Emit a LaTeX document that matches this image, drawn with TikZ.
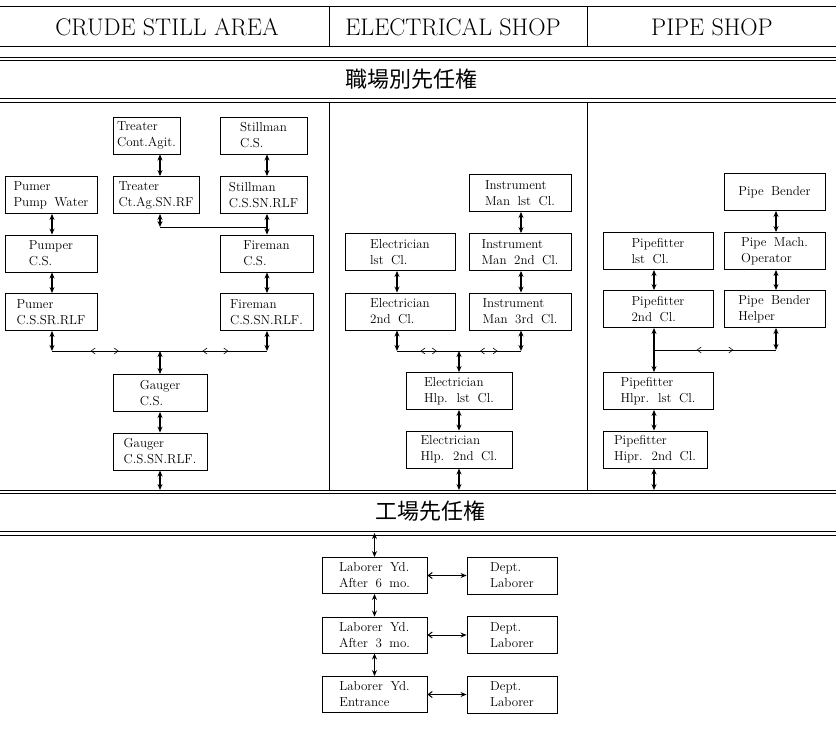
\documentclass[tikz,border=0pt]{standalone}
\usepackage{fontspec}
\newfontfamily\cjk{Noto Sans CJK JP}
\usetikzlibrary{arrows.meta,positioning,calc,decorations.markings}
\newcommand{\jobfont}{\fontsize{13}{16}\selectfont\spaceskip 7.5pt plus 2pt\relax}
\tikzset{
  job/.style={draw,line width=0.9pt,minimum height=37pt,inner sep=2pt,align=left,
    font={\jobfont}},
  dbl/.style={{Stealth[length=6pt,width=5pt]}-{Stealth[length=6pt,width=5pt]},line width=1.4pt},
  link/.style={line width=1pt},
  harr/.style={{Straight Barb[length=4pt,width=6pt]}-{Stealth[length=6pt,width=5pt]},line width=1pt},
  rule/.style={line width=0.9pt},
  head/.style={font=\fontsize{24}{28}\selectfont},
  ttl/.style={font=\cjk\fontsize{22}{26}\selectfont},
  lr/.style n args={2}{postaction={decorate,decoration={markings,
      mark=at position #1 with {\arrowreversed{Straight Barb[length=4pt,width=6pt,line width=0.6pt]}},
      mark=at position #2 with {\arrow{Straight Barb[length=4pt,width=6pt,line width=0.6pt]}}}}},
}
\begin{document}
\begin{tikzpicture}[x=1pt,y=-1pt]
\useasboundingbox (0,0) rectangle (836,729);
% rules and column dividers
\draw[rule] (0,6) -- (836,6);
\draw[rule] (0,46) -- (836,46);
\draw[rule] (0,57) -- (836,57); \draw[rule] (0,60) -- (836,60);
\draw[rule] (0,98) -- (836,98); \draw[rule] (0,102) -- (836,102);
\draw[rule] (0,490) -- (836,490); \draw[rule] (0,493) -- (836,493);
\draw[rule] (0,531) -- (836,531); \draw[rule] (0,535) -- (836,535);
\foreach \x in {329,587} {
  \draw[rule] (\x,6) -- (\x,46);
  \draw[rule] (\x,102) -- (\x,490);
}
\node[head] (hCrude) at (167,27) {CRUDE STILL AREA};
\node[head] (hElec) at (453,27) {ELECTRICAL SHOP};
\node[head] (hPipe) at (712,27) {PIPE SHOP};
\node[ttl] (tSect) at (411,79) {職場別先任権};
\node[ttl] (tPlant) at (430,511) {工場先任権};
\coordinate (lineA) at (0,490);
\coordinate (lineB) at (0,533);

% crude still area
\node[job,minimum width=67pt] (tr1) at (146.5,135.5) {Treater\\Cont.Agit.};
\node[job,minimum width=87pt] (st1) at (263.5,135.5) {Stillman\\C.S.};
\node[job,minimum width=92pt] (pw) at (51,195) {Pumer\\Pump Water};
\node[job,minimum width=86pt] (tr2) at (156,195) {Treater\\Ct.Ag.SN.RF};
\node[job,minimum width=87pt] (st2) at (263.5,195) {Stillman\\C.S.SN.RLF};
\node[job,minimum width=92pt] (pu1) at (51,253.5) {Pumper\\C.S.};
\node[job,minimum width=93pt] (fi1) at (266.5,253.5) {Fireman\\C.S.};
\node[job,minimum width=92pt] (pu2) at (51,312) {Pumer\\C.S.SR.RLF};
\node[job,minimum width=93pt] (fi2) at (266.5,312) {Fireman\\C.S.SN.RLF.};
\node[job,minimum width=94pt] (ga1) at (160,393) {Gauger\\C.S.};
\node[job,minimum width=94pt] (ga2) at (160,451.5) {Gauger\\C.S.SN.RLF.};
\coordinate (cT) at (160,227);
\coordinate (bL1) at (52,351);
\coordinate (bL0) at (160,351);
\coordinate (bL2) at (267,351);
\draw[dbl] (tr1.south -| cT) -- (tr2.north -| cT);
\draw[dbl] (st1.south -| bL2) -- (st2.north -| bL2);
\draw[dbl] (st2.south -| bL2) -- (fi1.north -| bL2);
\draw[dbl] (tr2.south -| cT) -- (cT);
\draw[link] (cT) -- (cT -| bL2);
\draw[dbl] (pw.south -| bL1) -- (pu1.north -| bL1);
\draw[dbl] (pu1.south -| bL1) -- (pu2.north -| bL1);
\draw[dbl] (fi1.south -| bL2) -- (fi2.north -| bL2);
\draw[dbl] (pu2.south -| bL1) -- (bL1);
\draw[dbl] (fi2.south -| bL2) -- (bL2);
\draw[link,lr={.18}{.31},lr={.70}{.82}] (bL1) -- (bL2);
\draw[dbl] (bL0) -- (ga1.north);
\draw[dbl] (ga1) -- (ga2);
\draw[dbl] (ga2.south) -- (ga2.south |- lineA);

% electrical shop
\node[job,minimum width=102pt] (im1) at (520,193) {Instrument\\Man lst Cl.};
\node[job,minimum width=110pt] (el1) at (400,252) {Electrician\\lst Cl.};
\node[job,minimum width=102pt] (im2) at (520,252) {Instrument\\Man 2nd Cl.};
\node[job,minimum width=110pt] (el2) at (400,311.5) {Electrician\\2nd Cl.};
\node[job,minimum width=102pt] (im3) at (520,311.5) {Instrument\\Man 3rd Cl.};
\node[job,minimum width=106pt] (eh1) at (459,391) {Electrician\\Hlp. lst Cl.};
\node[job,minimum width=106pt] (eh2) at (459,449.5) {Electrician\\Hlp. 2nd Cl.};
\coordinate (bM1) at (397,351);
\coordinate (bM0) at (459,351);
\coordinate (bM2) at (521,351);
\draw[dbl] (im1.south -| bM2) -- (im2.north -| bM2);
\draw[dbl] (im2.south -| bM2) -- (im3.north -| bM2);
\draw[dbl] (el1.south -| bM1) -- (el2.north -| bM1);
\draw[dbl] (el2.south -| bM1) -- (bM1);
\draw[dbl] (im3.south -| bM2) -- (bM2);
\draw[link,lr={.19}{.32},lr={.67}{.81}] (bM1) -- (bM2);
\draw[dbl] (bM0) -- (eh1.north);
\draw[dbl] (eh1) -- (eh2);
\draw[dbl] (eh2.south) -- (eh2.south |- lineA);

% pipe shop
\node[job,minimum width=101pt] (pb) at (774.5,192) {Pipe Bender};
\node[job,minimum width=110pt] (pf1) at (658,251) {Pipefitter\\lst Cl.};
\node[job,minimum width=101pt] (pm) at (774.5,251) {Pipe Mach.\\Operator};
\node[job,minimum width=110pt] (pf2) at (658,309) {Pipefitter\\2nd Cl.};
\node[job,minimum width=101pt] (bh) at (774.5,309) {Pipe Bender\\Helper};
\node[job,minimum width=110pt] (ph1) at (658,391) {Pipefitter\\Hlpr. lst Cl.};
\node[job,minimum width=104pt] (ph2) at (655,449.5) {Pipefitter\\Hipr. 2nd Cl.};
\coordinate (bR1) at (654,350);
\coordinate (bR2) at (776,350);
\draw[dbl] (pb.south -| bR2) -- (pm.north -| bR2);
\draw[dbl] (pm.south -| bR2) -- (bh.north -| bR2);
\draw[dbl] (pf1.south -| bR1) -- (pf2.north -| bR1);
\draw[dbl] (pf2.south -| bR1) -- (ph1.north -| bR1);
\draw[dbl] (bh.south -| bR2) -- (bR2);
\draw[link,lr={.35}{.65}] (bR1) -- (bR2);
\draw[dbl] (ph1.south -| bR1) -- (ph2.north -| bR1);
\draw[dbl] (ph2.south -| bR1) -- (bR1 |- lineA);

% plant seniority
\node[job,minimum width=105pt,minimum height=36pt] (ly1) at (374.5,575.5) {Laborer Yd.\\After 6 mo.};
\node[job,minimum width=90pt] (dl1) at (512,575.5) {Dept.\\Laborer};
\node[job,minimum width=105pt,minimum height=36pt] (ly2) at (374.5,635) {Laborer Yd.\\After 3 mo.};
\node[job,minimum width=90pt] (dl2) at (512,635) {Dept.\\Laborer};
\node[job,minimum width=105pt,minimum height=36pt] (ly3) at (374.5,694.5) {Laborer Yd.\\Entrance};
\node[job,minimum width=90pt] (dl3) at (512,694.5) {Dept.\\Laborer};
\draw[dbl] (ly1.north |- lineB) -- (ly1.north);
\draw[dbl] (ly1) -- (ly2);
\draw[dbl] (ly2) -- (ly3);
\foreach \i in {1,2,3} \draw[harr] (ly\i) -- (dl\i);
\end{tikzpicture}
\end{document}
